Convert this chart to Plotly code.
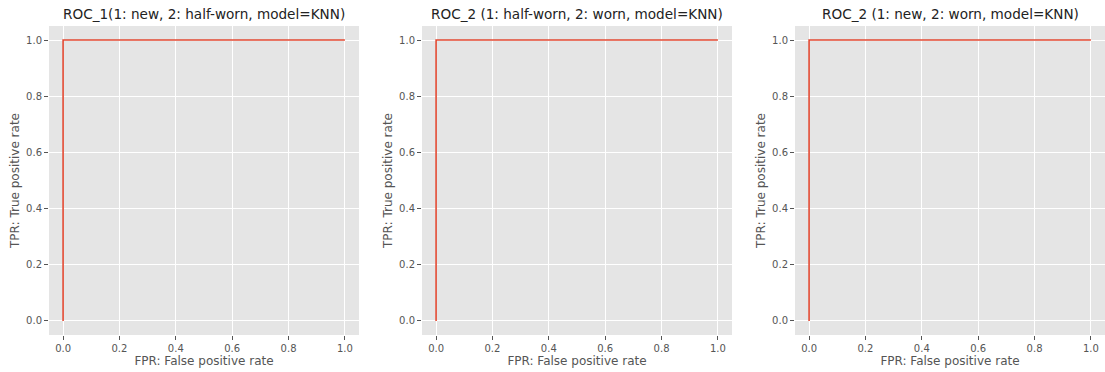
import plotly.graph_objects as go

titles = [
    "ROC_1(1: new, 2: half-worn, model=KNN)",
    "ROC_2 (1: half-worn, 2: worn, model=KNN)",
    "ROC_2 (1: new, 2: worn, model=KNN)",
]
fpr_1 = [0.0, 0.0, 1.0]
tpr_1 = [0.0, 1.0, 1.0]
fpr_2 = [0.0, 0.0, 1.0]
tpr_2 = [0.0, 1.0, 1.0]
fpr_3 = [0.0, 0.0, 1.0]
tpr_3 = [0.0, 1.0, 1.0]
tick_vals = [0.0, 0.2, 0.4, 0.6, 0.8, 1.0]
tick_text = ["0.0", "0.2", "0.4", "0.6", "0.8", "1.0"]
x_label = "FPR: False positive rate"
y_label = "TPR: True positive rate"

series = [(fpr_1, tpr_1), (fpr_2, tpr_2), (fpr_3, tpr_3)]

W, H = 1105, 372
lefts = [49, 422, 795]
pw = 310
top, bottom = 26, 335

fig = go.Figure()
layout = dict(
    width=W, height=H,
    margin=dict(l=0, r=0, t=top, b=H - bottom),
    paper_bgcolor="white",
    plot_bgcolor="#E5E5E5",
    showlegend=False,
    font=dict(family="DejaVu Sans", color="#555555", size=10),
    annotations=[],
)

for i, ((fx, ty), title) in enumerate(zip(series, titles)):
    n = "" if i == 0 else str(i + 1)
    fig.add_trace(go.Scatter(
        x=fx, y=ty, mode="lines",
        line=dict(color="#E24A33", width=1.6),
        xaxis="x" + n, yaxis="y" + n, hoverinfo="skip",
    ))
    x0 = lefts[i] / W
    x1 = (lefts[i] + pw) / W
    axcommon = dict(
        range=[-0.05, 1.05], tickvals=tick_vals, ticktext=tick_text,
        showgrid=True, gridcolor="white", gridwidth=1,
        zeroline=False, ticks="outside", ticklen=4, tickwidth=1,
        tickcolor="#555555", tickfont=dict(size=10, color="#555555"),
        showline=False,
    )
    layout["xaxis" + n] = dict(
        axcommon, domain=[x0, x1], anchor="y" + n,
        title=dict(text=x_label, font=dict(size=12, color="#555555"), standoff=3),
    )
    layout["yaxis" + n] = dict(
        axcommon, domain=[0, 1], anchor="x" + n,
        title=dict(text=y_label, font=dict(size=12, color="#555555"), standoff=3),
    )
    layout["annotations"].append(dict(
        text=title, x=(x0 + x1) / 2, y=1, xref="paper", yref="paper",
        xanchor="center", yanchor="bottom", yshift=2, showarrow=False,
        font=dict(size=13.6, color="#222222", family="DejaVu Sans"),
    ))

fig.update_layout(**layout)
fig.write_html("out.html")
